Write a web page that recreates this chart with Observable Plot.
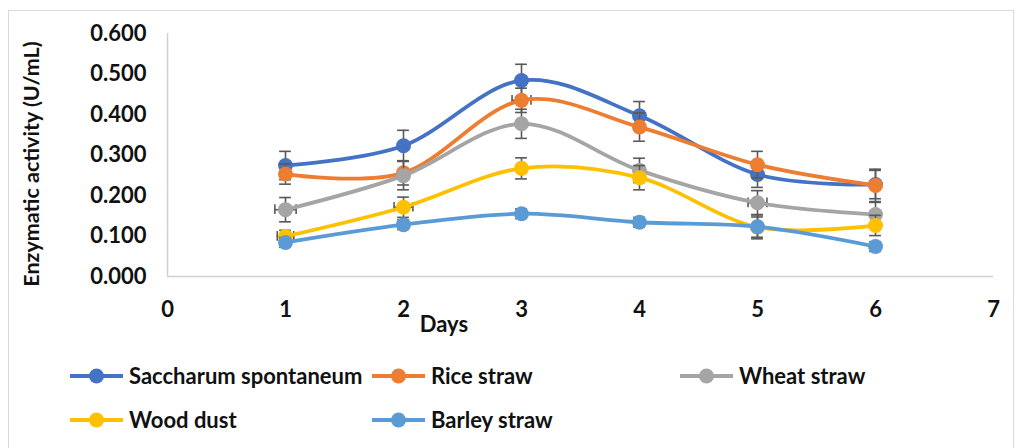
<!DOCTYPE html>
<html>
<head>
<meta charset="utf-8">
<script src="https://cdn.jsdelivr.net/npm/d3@7"></script>
<script src="https://cdn.jsdelivr.net/npm/@observablehq/plot@0.6"></script>
<style>
  body { margin: 0; background: #fff; }
  #wrap { position: relative; width: 1020px; height: 448px; overflow: hidden;
          font-family: Lato, "Open Sans", sans-serif; font-weight: bold; color: #111; }
  #border { position: absolute; left: 8px; top: 10px; width: 1006px; height: 470px;
            border: 1.5px solid #d9d9d9; box-sizing: border-box; }
  #chart { position: absolute; left: 0; top: 0; }
  .lbl { position: absolute; white-space: nowrap; }
  .item { position: absolute; display: flex; align-items: center; font-size: 22px; white-space: nowrap; }
  .item svg { margin-right: 6px; }
</style>
</head>
<body>
<div id="wrap">
  <div id="border"></div>
  <div id="chart"></div>
  <div class="lbl" id="ylabel" style="left:31px;top:164px;font-size:21.5px;transform:translate(-50%,-50%) rotate(-90deg);"></div>
  <div class="lbl" id="xlabel" style="left:444px;top:323px;font-size:22px;transform:translate(-50%,-50%);"></div>
  <div id="legend"></div>
</div>
<script>
const days = [1, 2, 3, 4, 5, 6];
const seriesNames = ["Saccharum spontaneum", "Rice straw", "Wheat straw", "Wood dust", "Barley straw"];
const colors = ["#4472C4", "#ED7D31", "#A5A5A5", "#FFC000", "#5B9BD5"];

const saccharum = [0.274, 0.323, 0.484, 0.397, 0.252, 0.227];
const rice      = [0.253, 0.256, 0.435, 0.369, 0.276, 0.225];
const wheat     = [0.165, 0.249, 0.377, 0.262, 0.182, 0.153];
const wood      = [0.099, 0.171, 0.267, 0.244, 0.122, 0.126];
const barley    = [0.084, 0.128, 0.155, 0.134, 0.123, 0.074];

const saccharumErr = [0.035, 0.038, 0.040, 0.035, 0.032, 0.035];
const riceErr      = [0.025, 0.030, 0.030, 0.035, 0.033, 0.040];
const wheatErr     = [0.030, 0.035, 0.036, 0.030, 0.030, 0.030];
const woodErr      = [0.015, 0.025, 0.026, 0.030, 0.025, 0.025];
const barleyErr    = [0.012, 0.012, 0.012, 0.012, 0.030, 0.012];

const saccharumXErr = [0, 0, 0, 0, 0, 0];
const riceXErr      = [0, 0, 0.08, 0, 0, 0];
const wheatXErr     = [0.09, 0, 0, 0, 0.08, 0];
const woodXErr      = [0.07, 0.08, 0, 0, 0, 0];
const barleyXErr    = [0, 0, 0, 0, 0, 0];

const xTicks = [0, 1, 2, 3, 4, 5, 6, 7];
const yTicks = [0, 0.1, 0.2, 0.3, 0.4, 0.5, 0.6];
const yTitle = "Enzymatic activity (U/mL)";
const xTitle = "Days";

const values = [saccharum, rice, wheat, wood, barley];
const yErrs = [saccharumErr, riceErr, wheatErr, woodErr, barleyErr];
const xErrs = [saccharumXErr, riceXErr, wheatXErr, woodXErr, barleyXErr];

const rows = seriesNames.map((s, i) => days.map((d, j) => ({
  series: s, day: d, value: values[i][j], err: yErrs[i][j], xerr: xErrs[i][j]
})));

const errColor = "#595959";
const capHalf = 0.05;   // days
const capHalfY = 0.012; // activity units

const seriesMarks = rows.flatMap((r, i) => {
  const rx = r.filter(d => d.xerr > 0);
  return [
    Plot.ruleX(r, {x: "day", y1: d => d.value - d.err, y2: d => d.value + d.err, stroke: errColor, strokeWidth: 1.6}),
    Plot.ruleY(r, {y: d => d.value + d.err, x1: d => d.day - capHalf, x2: d => d.day + capHalf, stroke: errColor, strokeWidth: 1.6}),
    Plot.ruleY(r, {y: d => d.value - d.err, x1: d => d.day - capHalf, x2: d => d.day + capHalf, stroke: errColor, strokeWidth: 1.6}),
    Plot.ruleY(rx, {y: "value", x1: d => d.day - d.xerr, x2: d => d.day + d.xerr, stroke: errColor, strokeWidth: 1.6}),
    Plot.ruleX(rx, {x: d => d.day - d.xerr, y1: d => d.value - capHalfY, y2: d => d.value + capHalfY, stroke: errColor, strokeWidth: 1.6}),
    Plot.ruleX(rx, {x: d => d.day + d.xerr, y1: d => d.value - capHalfY, y2: d => d.value + capHalfY, stroke: errColor, strokeWidth: 1.6}),
    Plot.line(r, {x: "day", y: "value", stroke: colors[i], strokeWidth: 3.8, curve: "cardinal"}),
    Plot.dot(r, {x: "day", y: "value", r: 7.5, fill: colors[i]})
  ];
});

const chart = Plot.plot({
  width: 1020,
  height: 340,
  marginLeft: 167,
  marginRight: 27,
  marginTop: 33,
  marginBottom: 64,
  style: {fontFamily: "Lato, 'Open Sans', sans-serif", fontWeight: "bold", fontSize: "22px", color: "#111", background: "transparent", overflow: "visible"},
  x: {domain: [0, 7], ticks: xTicks, tickFormat: d => String(d)},
  y: {domain: [0, 0.6], ticks: yTicks, tickFormat: d3.format(".3f")},
  marks: [
    Plot.axisX({ticks: xTicks, tickSize: 0, tickPadding: 25, label: null, tickFormat: d => String(d), fontSize: 22}),
    Plot.axisY({ticks: yTicks, tickSize: 0, tickPadding: 21, label: null, tickFormat: d3.format(".3f"), fontSize: 22}),
    Plot.ruleX([0], {stroke: "#d0d0d0", strokeWidth: 1.5}),
    Plot.ruleY([0], {stroke: "#d0d0d0", strokeWidth: 1.5}),
    ...seriesMarks
  ]
});
document.getElementById("chart").appendChild(chart);
document.getElementById("ylabel").textContent = yTitle;
document.getElementById("xlabel").textContent = xTitle;

// legend
const legendPos = [[70, 376], [372, 376], [680, 376], [70, 420], [372, 420]];
const legend = document.getElementById("legend");
seriesNames.forEach((s, i) => {
  const item = document.createElement("div");
  item.className = "item";
  item.style.left = legendPos[i][0] + "px";
  item.style.top = (legendPos[i][1] - 14) + "px";
  item.innerHTML = `<svg width="53" height="16"><line x1="0" x2="53" y1="8" y2="8" stroke="${colors[i]}" stroke-width="3.8"/><circle cx="26.5" cy="8" r="7.5" fill="${colors[i]}"/></svg><span>${s}</span>`;
  legend.appendChild(item);
});
</script>
</body>
</html>
